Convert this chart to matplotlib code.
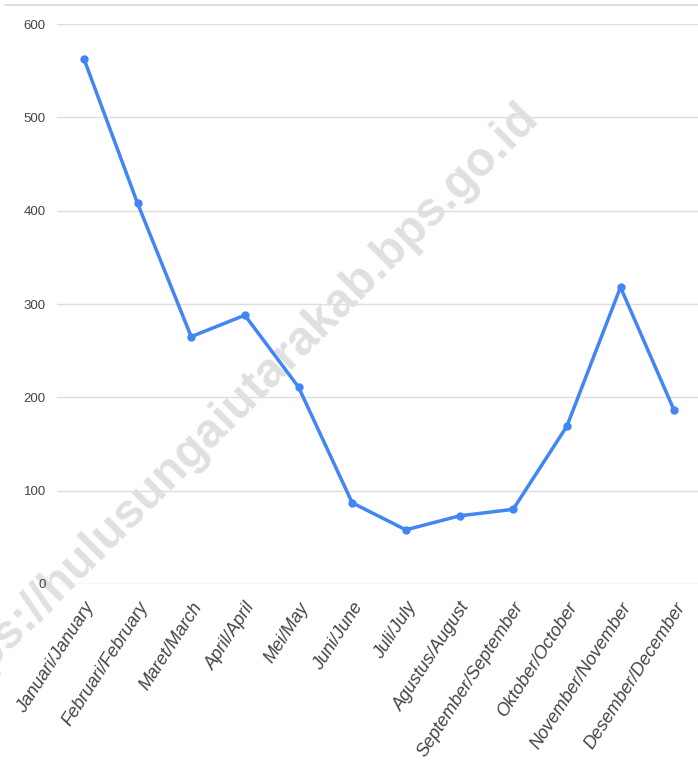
import matplotlib
matplotlib.use('Agg')
import matplotlib.pyplot as plt

# Data
months = ['Januari/January', 'Februari/February', 'Maret/March', 'April/April',
          'Mei/May', 'Juni/June', 'Juli/July', 'Agustus/August',
          'September/September', 'Oktober/October', 'November/November',
          'Desember/December']
values = [563, 408, 265, 288, 211, 87, 58, 73, 80, 169, 318, 186]
yticks = [0, 100, 200, 300, 400, 500, 600]

fonts = ['Liberation Sans Narrow', 'Liberation Sans', 'DejaVu Sans']

fig = plt.figure(figsize=(6.98, 7.80), dpi=100)
ax = fig.add_axes([0.0817, 0.2513, 0.9226, 0.7179])

# grid drawn by hand so the watermark can sit between grid and labels
for v in yticks:
    ax.axhline(v, color='#dddddd', lw=1, zorder=1)

# watermark
ax.text(0.335, 0.478, 'https://hulusungaiutarakab.bps.go.id', rotation=45,
        rotation_mode='anchor', ha='center', va='center',
        fontsize=34.5, fontweight='bold', color='#e0e0e0',
        family=['Liberation Sans', 'DejaVu Sans'], zorder=1.5,
        transform=fig.transFigure, clip_on=False)

# thin line along the top
fig.add_artist(plt.Line2D([0.007, 1.0], [0.9936, 0.9936], color='#d9d9d9', lw=1.2))

x = list(range(len(months)))
ax.plot(x, values, color='#4285f4', lw=2.5, marker='o', markersize=5, zorder=3)

ax.set_xlim(-0.5, len(months) - 0.5)
ax.set_ylim(0, 600)
ax.set_yticks(yticks)
ax.set_yticklabels([str(v) for v in yticks], family=fonts, fontsize=9.5, color='#444444')
ax.set_xticks(x)
ax.set_xticklabels(months, rotation=57, ha='right', rotation_mode='anchor',
                   family=fonts, style='italic', fontsize=13, color='#444444')
ax.tick_params(axis='both', length=0)
ax.tick_params(axis='y', pad=8)
ax.tick_params(axis='x', pad=11)
ax.xaxis.set_zorder(2)
ax.yaxis.set_zorder(2)

for s in ax.spines.values():
    s.set_visible(False)
ax.patch.set_alpha(0)

plt.savefig('out.png', dpi=100)
